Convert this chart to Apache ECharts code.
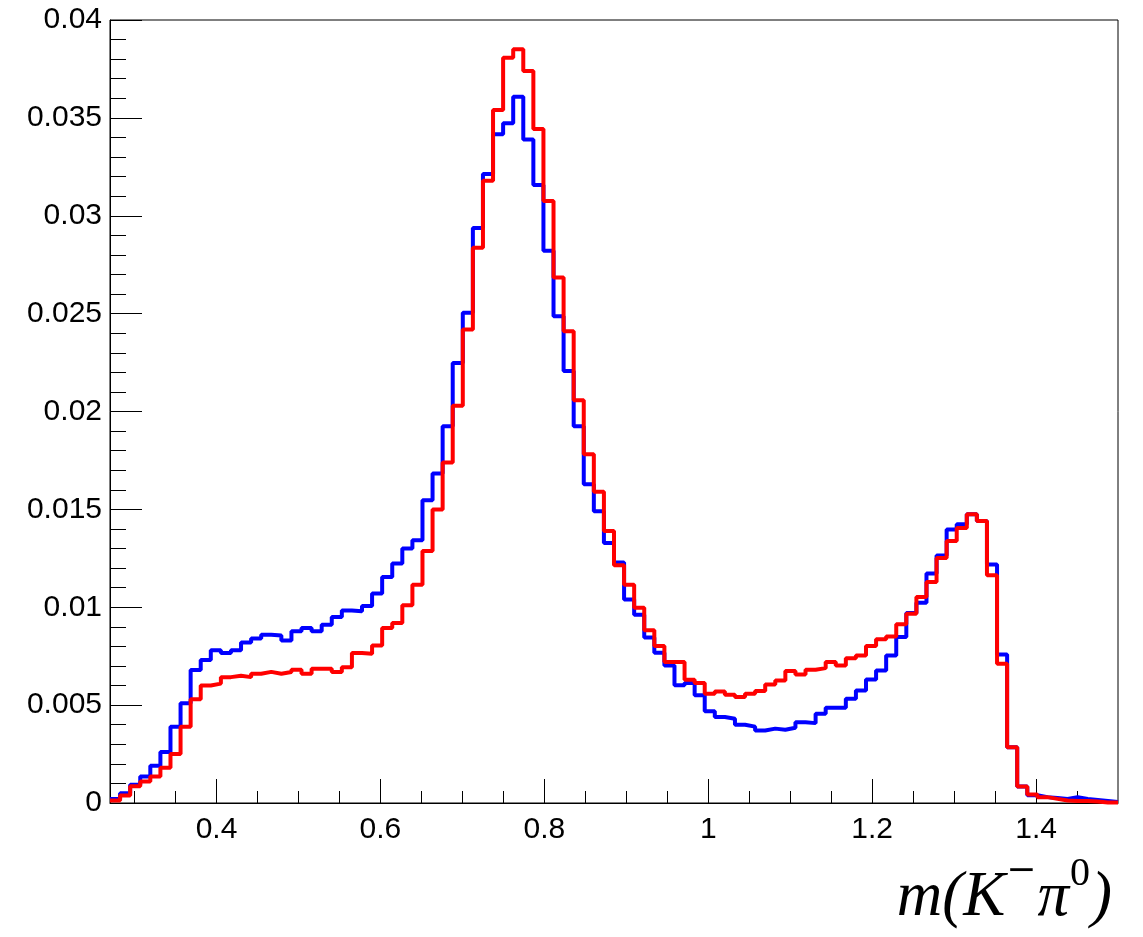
<!DOCTYPE html>
<html>
<head>
<meta charset="utf-8">
<script src="https://cdn.jsdelivr.net/npm/echarts@6/dist/echarts.min.js"></script>
<style>
  html, body { margin: 0; padding: 0; background: #fff; }
  #chart { width: 1143px; height: 937px; }
</style>
</head>
<body>
<div id="chart"></div>
<script>
// histogram range, 100 bins
const X_MIN = 0.27;
const X_MAX = 1.5;
const N_BINS = 100;

const xMajorTicks = [0.4, 0.6, 0.8, 1, 1.2, 1.4];
const xMinorTicks = [0.3, 0.35, 0.45, 0.5, 0.55, 0.65, 0.7, 0.75, 0.85, 0.9, 0.95,
  1.05, 1.1, 1.15, 1.25, 1.3, 1.35, 1.45];

// bin contents
const blueBins = [
  0.0002, 0.0005, 0.00093, 0.00135, 0.0019, 0.0026, 0.0039, 0.0051, 0.0068, 0.0073,
  0.0078, 0.00766, 0.0078, 0.0082, 0.0084, 0.0086, 0.00856, 0.0083, 0.00877, 0.00894,
  0.00877, 0.00911, 0.0095, 0.00984, 0.0098, 0.01006, 0.0107, 0.01154, 0.01223, 0.013,
  0.01342, 0.01546, 0.01683, 0.01925, 0.02248, 0.02504, 0.02938, 0.03213, 0.03416, 0.03472,
  0.03608, 0.0339, 0.03157, 0.02821, 0.02487, 0.02207, 0.01925, 0.01628, 0.0149, 0.01328,
  0.01228, 0.01039, 0.00962, 0.00845, 0.00768, 0.00703, 0.00601, 0.00613, 0.0055, 0.00469,
  0.00439, 0.0043, 0.0040, 0.0039, 0.0037, 0.0038, 0.00374, 0.00384, 0.00413, 0.00408,
  0.00456, 0.00487, 0.00487, 0.00533, 0.00575, 0.00631, 0.00677, 0.00754, 0.00848, 0.0097,
  0.01023, 0.01172, 0.01265, 0.01397, 0.01424, 0.01475, 0.0144, 0.01219, 0.00759, 0.00285,
  0.00084, 0.0004, 0.0003, 0.00025, 0.0002, 0.0003, 0.0002, 0.00015, 0.0001, 0.00005
];
const redBins = [
  0.00013, 0.00038, 0.00086, 0.0011, 0.00135, 0.0018, 0.0025, 0.0039, 0.0053, 0.0060,
  0.0061, 0.00643, 0.0065, 0.00643, 0.0066, 0.0067, 0.0066, 0.00669, 0.00681, 0.0066,
  0.00686, 0.00686, 0.00669, 0.00694, 0.00766, 0.00763, 0.00805, 0.00894, 0.00919, 0.0101,
  0.01115, 0.01287, 0.015, 0.01739, 0.02029, 0.02419, 0.02836, 0.03179, 0.0354, 0.03807,
  0.0385, 0.0374, 0.03443, 0.03075, 0.02685, 0.0241, 0.02058, 0.01782, 0.0159, 0.0139,
  0.01214, 0.01115, 0.00998, 0.00882, 0.00802, 0.0072, 0.0072, 0.0063, 0.00613, 0.00558,
  0.0057, 0.00553, 0.00541, 0.00558, 0.00572, 0.00606, 0.00626, 0.00674, 0.00657, 0.00681,
  0.00689, 0.0072, 0.00703, 0.0074, 0.00754, 0.00802, 0.00836, 0.00851, 0.00913, 0.00967,
  0.01052, 0.01129, 0.01251, 0.01338, 0.01405, 0.01475, 0.0144, 0.01163, 0.00711, 0.00285,
  0.00084, 0.00043, 0.0003, 0.00021, 0.00013, 0.0001, 0.0001, 0.00008, 0.00003, 0.00003
];

// left bin edges + closing point, drawn as a step line
function toSteps(bins) {
  const w = (X_MAX - X_MIN) / N_BINS;
  const pts = bins.map((v, i) => [X_MIN + i * w, v]);
  pts.push([X_MAX, bins[bins.length - 1]]);
  return pts;
}

const labelFont = { fontFamily: 'Liberation Sans', fontSize: 30, color: '#000' };

const chart = echarts.init(document.getElementById('chart'));

const option = {
  animation: false,
  backgroundColor: '#fff',
  grid: {
    left: 110, right: 25, top: 20, bottom: 134,
    show: true, borderColor: '#000', borderWidth: 1
  },
  xAxis: [
    {
      type: 'value', min: X_MIN, max: X_MAX,
      axisLine: { show: true, lineStyle: { color: '#000', width: 1 } },
      axisTick: { show: true, inside: true, length: 24, customValues: xMajorTicks,
        lineStyle: { color: '#000', width: 1 } },
      axisLabel: Object.assign({ show: true, margin: 12, customValues: xMajorTicks,
        formatter: v => String(parseFloat(v.toFixed(2))) }, labelFont),
      splitLine: { show: false }
    },
    {
      type: 'value', min: X_MIN, max: X_MAX, position: 'bottom',
      axisLine: { show: false },
      axisTick: { show: true, inside: true, length: 12, customValues: xMinorTicks,
        lineStyle: { color: '#000', width: 1 } },
      axisLabel: { show: false },
      splitLine: { show: false }
    }
  ],
  yAxis: {
    type: 'value', min: 0, max: 0.04, interval: 0.005,
    axisLine: { show: true, lineStyle: { color: '#000', width: 1 } },
    axisTick: { show: true, inside: true, length: 32, lineStyle: { color: '#000', width: 1 } },
    minorTick: { show: true, splitNumber: 5, length: 16, lineStyle: { color: '#000', width: 1 } },
    axisLabel: Object.assign({ margin: 8,
      formatter: v => String(parseFloat(v.toFixed(3))) }, labelFont),
    splitLine: { show: false },
    minorSplitLine: { show: false }
  },
  series: [
    {
      name: 'blue', type: 'line', step: 'end', symbol: 'none',
      xAxisIndex: 0, data: toSteps(blueBins),
      lineStyle: { color: '#0000ff', width: 4 }, z: 2
    },
    {
      name: 'red', type: 'line', step: 'end', symbol: 'none',
      xAxisIndex: 0, data: toSteps(redBins),
      lineStyle: { color: '#ff0000', width: 4 }, z: 3
    }
  ],
  graphic: [
    {
      type: 'text', right: 31, top: 854,
      style: {
        text: '{a|m(K}{m|\u2212}{a|π}{s|0}{a|)}',
        rich: {
          a: { fontFamily: 'Liberation Serif', fontStyle: 'italic', fontSize: 63,
            lineHeight: 76, verticalAlign: 'bottom', fill: '#000' },
          m: { fontFamily: 'DejaVu Serif', fontSize: 36, padding: [0, 1, 0, 1],
            lineHeight: 76, verticalAlign: 'top', fill: '#000' },
          s: { fontFamily: 'Liberation Serif', fontSize: 40, padding: [0, 1, 0, 1],
            lineHeight: 76, verticalAlign: 'top', fill: '#000' }
        }
      }
    }
  ]
};

chart.setOption(option);
</script>
</body>
</html>
